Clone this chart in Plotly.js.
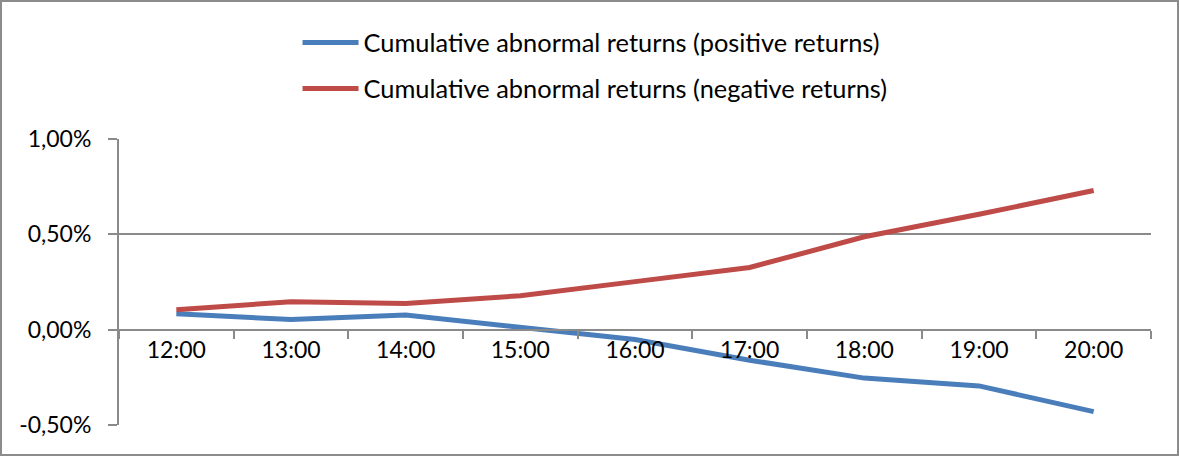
<!DOCTYPE html>
<html>
<head>
<meta charset="utf-8">
<script src="https://cdn.plot.ly/plotly-3.0.1.min.js"></script>
<style>
  html, body { margin: 0; padding: 0; background: #ffffff; }
  #chart { width: 1175px; height: 452px; border: 2px solid #8c8c8c; }
</style>
</head>
<body>
<div id="chart"></div>
<script>
const categories = ["12:00", "13:00", "14:00", "15:00", "16:00", "17:00", "18:00", "19:00", "20:00"];
const positiveReturns = [0.084, 0.053, 0.077, 0.015, -0.052, -0.160, -0.254, -0.295, -0.430];
const negativeReturns = [0.105, 0.146, 0.137, 0.178, 0.252, 0.326, 0.487, 0.605, 0.730];
const seriesNames = ["Cumulative abnormal returns (positive returns)", "Cumulative abnormal returns (negative returns)"];
const yTickValues = [-0.5, 0, 0.5, 1.0];
const yTickLabels = ["-0,50%", "0,00%", "0,50%", "1,00%"];

const FONT = "Lato, 'Open Sans', sans-serif";
const GRID = "#8a8a8a";

const traces = [
  {
    x: categories, y: positiveReturns, name: seriesNames[0], type: "scatter", mode: "lines",
    line: { color: "#4A7EBB", width: 5 }, legendgroup: "a"
  },
  {
    x: categories, y: negativeReturns, name: seriesNames[1], type: "scatter", mode: "lines",
    line: { color: "#BE4B48", width: 5 }, legendgroup: "b"
  }
];

const layout = {
  width: 1175, height: 452,
  margin: { l: 117, r: 26, t: 137, b: 29, pad: 0 },
  paper_bgcolor: "#ffffff", plot_bgcolor: "#ffffff",
  font: { family: FONT, size: 23, color: "#000000" },
  showlegend: true,
  legend: {
    x: 0.173, y: 1.418, xanchor: "left", yanchor: "top",
    orientation: "v", traceorder: "grouped", tracegroupgap: 10,
    itemwidth: 56,
    font: { family: FONT, size: 25.4, color: "#000000" },
    bgcolor: "rgba(0,0,0,0)"
  },
  xaxis: {
    type: "category", range: [-0.5, 8.5],
    anchor: "free", position: 1/3,
    showline: true, linecolor: GRID, linewidth: 2,
    ticks: "outside", ticklen: 8, tickcolor: GRID, tickwidth: 2,
    tickson: "boundaries", showgrid: false, zeroline: false,
    tickfont: { family: FONT, size: 23, color: "#000000" }
  },
  yaxis: {
    range: [-0.5, 1.0], tickvals: yTickValues, ticktext: yTickLabels,
    showline: true, linecolor: GRID, linewidth: 2,
    ticks: "outside", ticklen: 9, tickcolor: GRID, tickwidth: 2,
    showgrid: true, gridcolor: GRID, gridwidth: 2, zeroline: false,
    tickfont: { family: FONT, size: 23, color: "#000000" },
    ticklabelstandoff: 12
  }
};

Plotly.newPlot("chart", traces, layout, { displayModeBar: false, staticPlot: true });
</script>
</body>
</html>
